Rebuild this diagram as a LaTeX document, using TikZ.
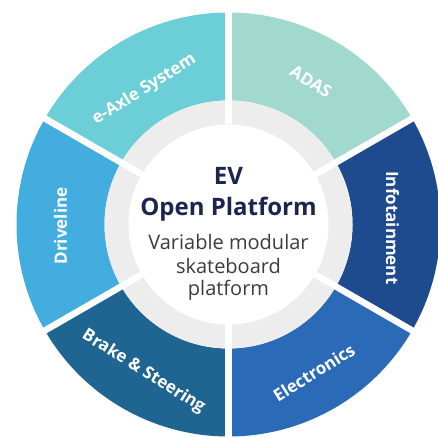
\documentclass[tikz,border=0pt]{standalone}
\usepackage{fontspec}
\setmainfont{Open Sans}
\definecolor{caxle}{HTML}{6CCFD8}
\definecolor{cadas}{HTML}{A2D9CF}
\definecolor{cinfo}{HTML}{1E4B8E}
\definecolor{celec}{HTML}{2A6AB7}
\definecolor{cbrake}{HTML}{1F6592}
\definecolor{cdrive}{HTML}{44ADE0}
\definecolor{cring}{HTML}{EDEDED}
\definecolor{ctitle}{HTML}{1E2452}
\definecolor{csub}{HTML}{3C3C3C}
\begin{document}
\begin{tikzpicture}[x=1pt,y=1pt,
  seglabel/.style={text=white,font=\fontsize{17}{20}\selectfont\bfseries,inner sep=0pt},
  titletext/.style={text=ctitle,font=\fontsize{24}{28}\selectfont\bfseries,anchor=base,inner sep=0pt},
  subtext/.style={text=csub,font=\fontsize{20}{24}\selectfont,anchor=base,inner sep=0pt}]
\useasboundingbox (0,0) rectangle (438,438);
\fill[white] (0,0) rectangle (438,438);
\begin{scope}[shift={(228.5,213.5)}]
  \def\Ro{212}\def\Ri{124}
  \foreach \a/\c in {90/caxle,30/cadas,-30/cinfo,-90/celec,-150/cbrake,150/cdrive}{
    \fill[\c] (\a:\Ri) -- (\a:\Ro) arc[start angle=\a,delta angle=60,radius=\Ro]
      -- (\a+60:\Ri) arc[start angle=\a+60,delta angle=-60,radius=\Ri] -- cycle;
  }
  \fill[cring] (0,0) circle (\Ri);
  \fill[white] (0,0) circle (100);
  \foreach \a in {30,90,150,210,270,330}{
    \draw[white,line width=6.5pt] (\a:100) -- (\a:225);
  }
  \node[seglabel,rotate=32] (axle) at (122:159) {e-Axle System};
  \node[seglabel,rotate=-32] (adas) at (60:165) {ADAS};
  \node[seglabel,rotate=-90] (info) at (-1.2:164) {Infotainment};
  \node[seglabel,rotate=32] (elec) at (-60:171) {Electronics};
  \node[seglabel,rotate=-32] (brake) at (-120:170) {Brake \& Steering};
  \node[seglabel,rotate=90] (drive) at (180.5:168) {Driveline};
  \node[titletext] (ev) at (0,40) {EV};
  \node[titletext] (open) at (0,9) {Open Platform};
  \node[subtext] (var) at (0,-24.8) {Variable modular};
  \node[subtext] (skate) at (0,-49.5) {skateboard};
  \node[subtext] (plat) at (0,-71) {platform};
\end{scope}
\end{tikzpicture}
\end{document}
